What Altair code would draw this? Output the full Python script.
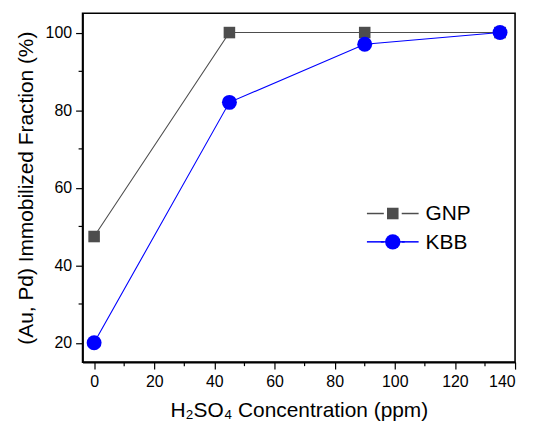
import altair as alt
import pandas as pd

# ---- data ----
conc = [0, 45, 90, 135]
gnp = [47.4, 100, 100, 100]
kbb = [20, 82, 97, 100]
series_names = ["GNP", "KBB"]
series_colors = ["#4d4d4d", "#0000ff"]
x_minor = [10, 30, 50, 70, 90, 110, 130]
y_minor = [30, 50, 70, 90]
x_ticks = [0, 20, 40, 60, 80, 100, 120, 140]
y_ticks = [20, 40, 60, 80, 100]

df = pd.DataFrame({
    "conc": conc * 2,
    "frac": gnp + kbb,
    "series": ["GNP"] * len(conc) + ["KBB"] * len(conc),
})
df_minor_x = pd.DataFrame({"v": x_minor})
df_minor_y = pd.DataFrame({"v": y_minor})
df_leg = pd.DataFrame({"series": series_names})

FONT = "Liberation Sans"
W, H = 435, 351

xscale = alt.Scale(domain=[-3.84, 140], nice=False, zero=False)
yscale = alt.Scale(domain=[15, 105], nice=False, zero=False)
cscale = alt.Scale(domain=series_names, range=series_colors)

xenc = alt.X("conc:Q", scale=xscale,
             axis=alt.Axis(values=x_ticks, title="H₂SO₄ Concentration (ppm)",
                           grid=False, tickSize=7, labelPadding=4,
                           titlePadding=11, format="d"))
yenc = alt.Y("frac:Q", scale=yscale,
             axis=alt.Axis(values=y_ticks, title="(Au, Pd) Immobilized Fraction (%)",
                           grid=False, tickSize=7, labelPadding=4,
                           titlePadding=9, format="d"))

lines = alt.Chart(df).mark_line(strokeWidth=1.1).encode(
    x=xenc, y=yenc,
    color=alt.Color("series:N", scale=cscale, legend=None),
    detail="series:N",
)

sq = alt.Chart(df).transform_filter(alt.datum.series == "GNP").mark_point(
    shape="square", filled=True, size=135, opacity=1, color=series_colors[0]
).encode(x="conc:Q", y="frac:Q")

ci = alt.Chart(df).transform_filter(alt.datum.series == "KBB").mark_point(
    shape="circle", filled=True, size=225, opacity=1, color=series_colors[1]
).encode(x="conc:Q", y="frac:Q")

minor_x = alt.Chart(df_minor_x).mark_rule(color="black", strokeWidth=1.2, clip=False).encode(
    x=alt.X("v:Q", scale=xscale), y=alt.value(H), y2=alt.value(H + 4)
)
minor_y = alt.Chart(df_minor_y).mark_rule(color="black", strokeWidth=1.2, clip=False).encode(
    y=alt.Y("v:Q", scale=yscale), x=alt.value(0), x2=alt.value(-4)
)

main = alt.layer(lines, sq, ci, minor_x, minor_y)

# ---- legend (drawn inside plot) ----
ly = alt.Y("series:N", scale=alt.Scale(type="point", domain=series_names,
                                       range=[201.5, 230], padding=0), axis=None)
leg_line_l = alt.Chart(df_leg).mark_rule(strokeWidth=1.5).encode(
    y=ly, x=alt.value(286), x2=alt.value(303),
    color=alt.Color("series:N", scale=cscale, legend=None))
leg_line_r = alt.Chart(df_leg).mark_rule(strokeWidth=1.5).encode(
    y=ly, x=alt.value(321), x2=alt.value(338),
    color=alt.Color("series:N", scale=cscale, legend=None))
leg_line_c = alt.Chart(df_leg).transform_filter(alt.datum.series == "KBB").mark_rule(strokeWidth=1.5).encode(
    y=ly, x=alt.value(300), x2=alt.value(324),
    color=alt.Color("series:N", scale=cscale, legend=None))
leg_sq = alt.Chart(df_leg).transform_filter(alt.datum.series == "GNP").mark_point(
    shape="square", filled=True, size=135, opacity=1, color=series_colors[0]
).encode(y=ly, x=alt.value(312))
leg_ci = alt.Chart(df_leg).transform_filter(alt.datum.series == "KBB").mark_point(
    shape="circle", filled=True, size=240, opacity=1, color=series_colors[1]
).encode(y=ly, x=alt.value(312))
leg_txt = alt.Chart(df_leg).mark_text(
    align="left", baseline="middle", font=FONT, fontSize=21, color="black", dy=1
).encode(y=ly, x=alt.value(345), text="series:N")

legend = alt.layer(leg_line_l, leg_line_r, leg_line_c, leg_sq, leg_ci, leg_txt)

chart = alt.layer(main, legend).resolve_scale(y="independent").properties(
    width=W, height=H,
    background="white",
    autosize=alt.AutoSizeParams(type="none"),
    padding={"left": 75, "top": 4, "right": 10, "bottom": 60},
).configure_view(
    stroke="black", strokeWidth=1.6
).configure_axis(
    domainColor="black", domainWidth=1.6, tickColor="black", tickWidth=1.2,
    labelFont=FONT, labelFontSize=16, labelColor="black",
    titleFont=FONT, titleFontSize=21, titleColor="black", titleFontWeight="normal",
)

chart.save("out.html", embed_options={"renderer": "svg", "actions": False})
